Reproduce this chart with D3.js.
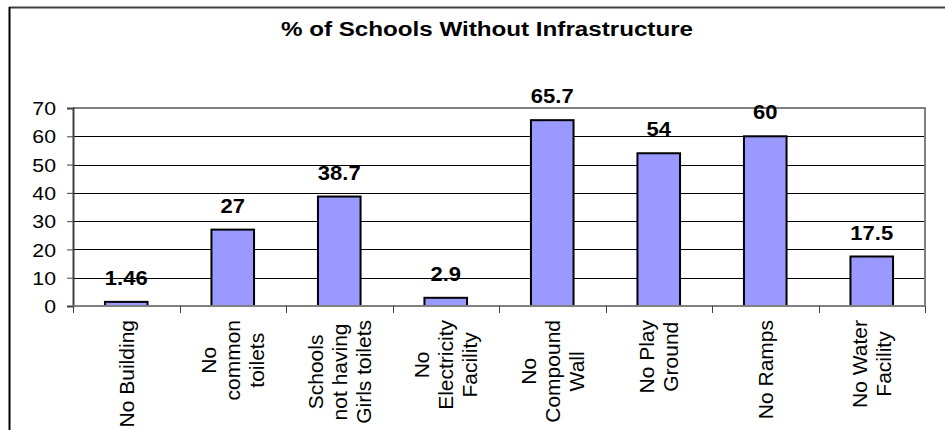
<!DOCTYPE html>
<html>
<head>
<meta charset="utf-8">
<script src="https://cdn.jsdelivr.net/npm/d3@7"></script>
<style>
  html, body { margin: 0; padding: 0; background: #fff; }
  svg { display: block; font-family: "Liberation Sans", Arial, sans-serif; }
</style>
</head>
<body>
<svg id="chart" width="945" height="430"></svg>
<script>
// Chart data
const title = "% of Schools Without Infrastructure";
const categories = [
  "No Building",
  "No\ncommon\ntoilets",
  "Schools\nnot having\nGirls toilets",
  "No\nElectricity\nFacility",
  "No\nCompound\nWall",
  "No Play\nGround",
  "No Ramps",
  "No Water\nFacility"
];
const values = [1.46, 27, 38.7, 2.9, 65.7, 54, 60, 17.5];
const valueLabels = ["1.46", "27", "38.7", "2.9", "65.7", "54", "60", "17.5"];
const yTicks = [0, 10, 20, 30, 40, 50, 60, 70];

const svg = d3.select("#chart");

// Plot area
const plot = { left: 73, right: 925, top: 108, bottom: 306 };

const x = d3.scaleBand()
  .domain(categories)
  .range([plot.left, plot.right])
  .paddingInner(0.6)
  .paddingOuter(0.3);

const y = d3.scaleLinear()
  .domain([0, 70])
  .range([plot.bottom, plot.top]);

// Outer chart frame (continues past the page edge on right and bottom)
svg.append("line").attr("x1", 9).attr("x2", 945).attr("y1", 7.5).attr("y2", 7.5)
  .attr("stroke", "#404040").attr("stroke-width", 2);
svg.append("line").attr("x1", 9.5).attr("x2", 9.5).attr("y1", 7).attr("y2", 430)
  .attr("stroke", "#000").attr("stroke-width", 2);

// Title (horizontally stretched text)
svg.append("text")
  .attr("transform", `translate(${487},${36}) scale(1.18,1)`)
  .attr("text-anchor", "middle")
  .attr("font-weight", "bold")
  .attr("font-size", 20.5)
  .attr("fill", "#000")
  .text(title);

// Horizontal gridlines
svg.append("g")
  .selectAll("line")
  .data(yTicks.filter(t => t > 0 && t < 70))
  .join("line")
  .attr("x1", plot.left).attr("x2", plot.right)
  .attr("y1", d => Math.round(y(d)) + 0.5).attr("y2", d => Math.round(y(d)) + 0.5)
  .attr("stroke", "#000").attr("stroke-width", 1);

// Plot border: top and right in grey
svg.append("path")
  .attr("d", `M${plot.left},${y(70)}H${plot.right}V${plot.bottom}`)
  .attr("fill", "none").attr("stroke", "#808080").attr("stroke-width", 2);

// Bars
svg.append("g")
  .selectAll("rect")
  .data(categories)
  .join("rect")
  .attr("x", d => x(d))
  .attr("width", x.bandwidth())
  .attr("y", (d, i) => y(values[i]))
  .attr("height", (d, i) => y(0) - y(values[i]))
  .attr("fill", "#9999FF")
  .attr("stroke", "#000")
  .attr("stroke-width", 2);

// Value labels above bars
svg.append("g")
  .selectAll("text")
  .data(categories)
  .join("text")
  .attr("transform", (d, i) => `translate(${x(d) + x.bandwidth() / 2},${y(values[i]) - 17}) scale(1.1,1)`)
  .attr("text-anchor", "middle")
  .attr("font-weight", "bold")
  .attr("font-size", 20)
  .text((d, i) => valueLabels[i]);

// Y axis
const yAxis = svg.append("g")
  .attr("transform", `translate(${plot.left},0)`)
  .call(d3.axisLeft(y).tickValues(yTicks).tickSize(6).tickPadding(0).tickFormat(d3.format("d")));
yAxis.select(".domain").attr("stroke", "#404040").attr("stroke-width", 2);
yAxis.selectAll(".tick line").attr("stroke", "#404040").attr("stroke-width", 1);
const ySx = 1.12;
yAxis.selectAll(".tick text")
  .attr("font-family", "Liberation Sans, Arial, sans-serif")
  .attr("font-size", 19)
  .attr("fill", "#000")
  .attr("x", -17 / ySx)
  .attr("dy", "0.35em")
  .attr("transform", `scale(${ySx},1)`);

// X axis line and ticks at category boundaries
const step = x.step();
const boundaries = d3.range(categories.length + 1).map(i => plot.left + i * step);
svg.append("line")
  .attr("x1", plot.left).attr("x2", plot.right)
  .attr("y1", y(0)).attr("y2", y(0))
  .attr("stroke", "#808080").attr("stroke-width", 2);
svg.append("g")
  .selectAll("line")
  .data(boundaries)
  .join("line")
  .attr("x1", d => Math.round(d) + 0.5).attr("x2", d => Math.round(d) + 0.5)
  .attr("y1", y(0)).attr("y2", y(0) + 7)
  .attr("stroke", "#404040").attr("stroke-width", 1);

// Category labels, rotated, lines centred within each block
const catFont = 21;
const linePitch = 24;
const labelTop = 320;
const catG = svg.append("g");
categories.forEach(c => {
  const lines = c.split("\n");
  const g = catG.append("g");
  const texts = lines.map(l => g.append("text")
    .attr("font-size", catFont)
    .attr("text-anchor", "middle")
    .attr("dy", "0.35em")
    .attr("fill", "#000")
    .text(l));
  const maxLen = d3.max(texts, t => t.node().getComputedTextLength());
  const cx = x(c) + x.bandwidth() / 2;
  const cy = labelTop + maxLen / 2;
  texts.forEach((t, i) => {
    const off = (i - (lines.length - 1) / 2) * linePitch;
    t.attr("transform", `translate(${cx + off},${cy}) rotate(-90)`);
  });
});
</script>
</body>
</html>
